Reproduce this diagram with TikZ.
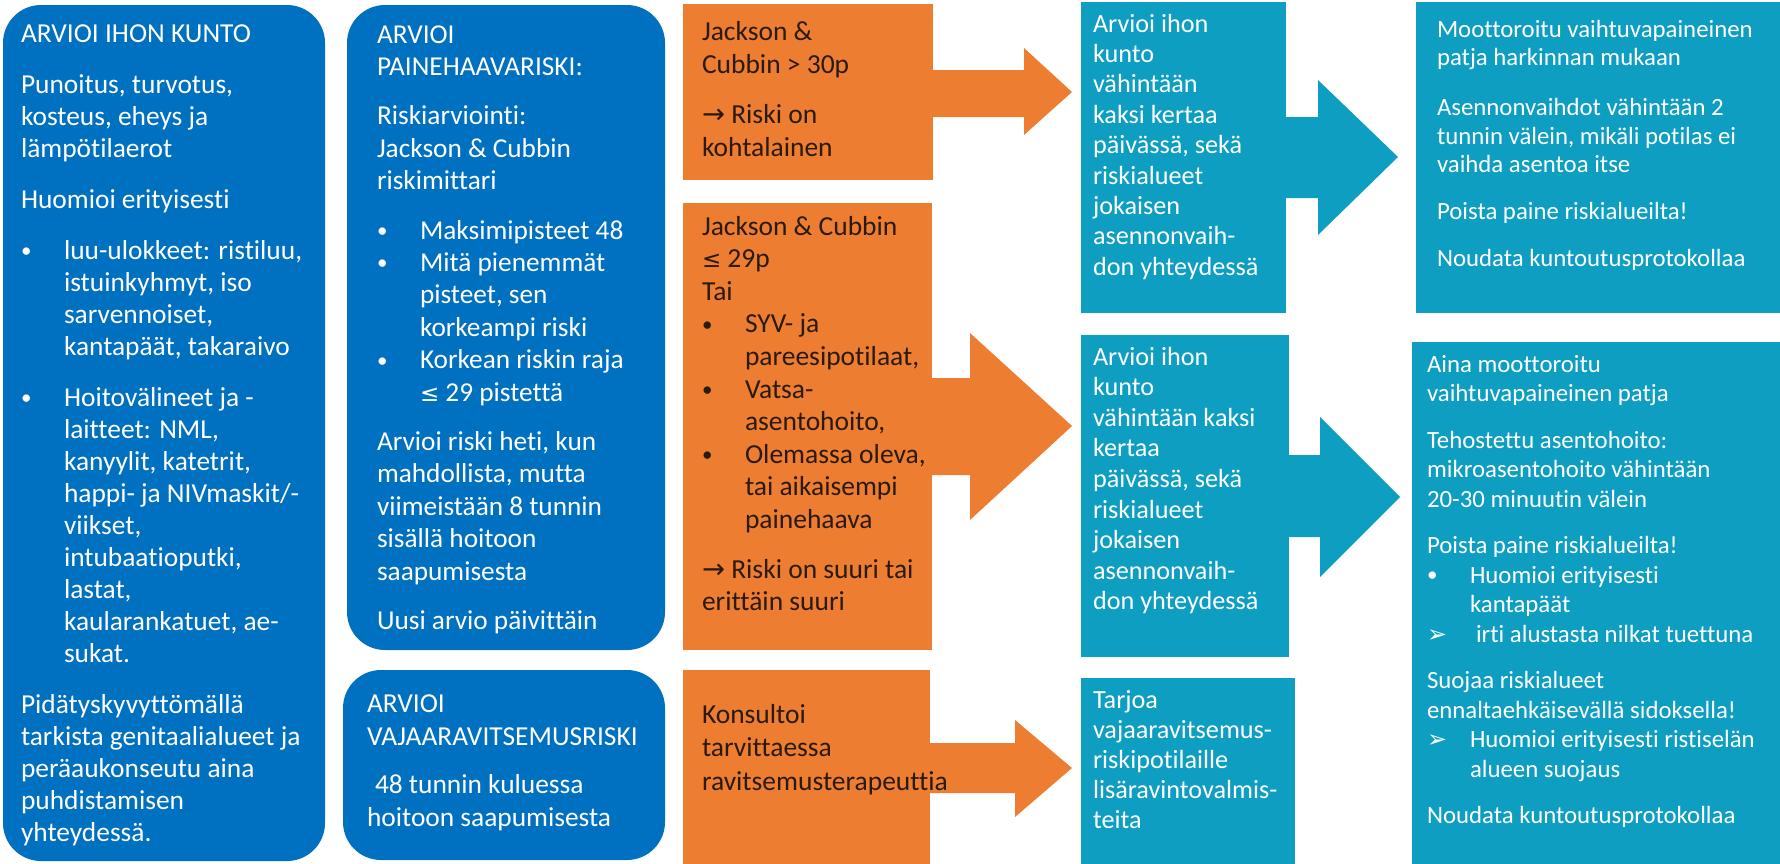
\documentclass[tikz,border=0pt]{standalone}
\usepackage{fontspec}
\setmainfont{Carlito}[Ligatures=NoCommon]
\newfontfamily\dvs{DejaVu Sans}
\usetikzlibrary{calc}
\definecolor{bl}{HTML}{0070C0}
\definecolor{orc}{HTML}{ED7D31}
\definecolor{tl}{HTML}{0E9EC2}
\definecolor{otx}{HTML}{2A1A10}
\newcommand\bu{\makebox[43pt][l]{\raisebox{1.5pt}{\fontsize{21}{21}\selectfont •}}}
\newcommand\ind{\hspace*{43pt}}
\newcommand\tri{\makebox[43pt][l]{{\dvs\fontsize{24}{24}\selectfont ➢}}}
\newcommand\rarr{{\dvs →}}
\newcommand\lsym{{\dvs\fontsize{23}{23}\selectfont ≤}}
\newcommand\fs{\rule{0pt}{24pt}}
\begin{document}
\begin{tikzpicture}[x=1pt,y=-1pt,
  box/.style={inner sep=0pt, outer sep=0pt, anchor=north west, draw=none},
  rbox/.style={box, fill=bl, rounded corners=38pt},
  obox/.style={box, fill=orc},
  tbox/.style={box, fill=tl},
  txt/.style={inner sep=0pt, outer sep=0pt, anchor=north west, align=left},
  wtxt/.style={txt, text=white},
  otxt/.style={txt, text=otx}]
\useasboundingbox (0,0) rectangle (1780,863);
\clip (0,0) rectangle (1780,863);
% boxes
\node[rbox, minimum width=322pt, minimum height=856pt] (b1) at (3,5) {};
\node[rbox, minimum width=318pt, minimum height=645pt] (b2) at (347,5) {};
\node[rbox, minimum width=322pt, minimum height=190pt] (b3) at (343,670) {};
\node[obox, minimum width=250pt, minimum height=176pt] (o1) at (683,4) {};
\node[obox, minimum width=249pt, minimum height=447pt] (o2) at (683,203) {};
\node[obox, minimum width=247pt, minimum height=220pt] (o3) at (683,670) {};
\node[tbox, minimum width=205pt, minimum height=311pt] (t1) at (1081,2) {};
\node[tbox, minimum width=208pt, minimum height=322pt] (t2) at (1081,335) {};
\node[tbox, minimum width=214pt, minimum height=220pt] (t3) at (1081,678) {};
\node[tbox, minimum width=380pt, minimum height=311pt] (r1) at (1416,2) {};
\node[tbox, minimum width=380pt, minimum height=540pt] (r2) at (1412,342) {};
% block arrows
\fill[orc] (o1.east |- 0,70) -- (1024,70) -- (1024,48) -- ($(t1.west |- 0,92)+(-9,0)$)
  -- (1024,135) -- (1024,117) -- (o1.east |- 0,117) -- cycle;
\fill[orc] (o2.east |- 0,378) -- (970,378) -- (970,333) -- ($(t2.west |- 0,426)+(-9,0)$)
  -- (970,520) -- (970,475) -- (o2.east |- 0,475) -- cycle;
\fill[orc] (o3.east |- 0,743) -- (1015,743) -- (1015,720) -- ($(t3.west |- 0,768)+(-9,0)$)
  -- (1015,817) -- (1015,793) -- (o3.east |- 0,793) -- cycle;
\fill[tl] (t1.east |- 0,117) -- (1318,117) -- (1318,80) -- ($(r1.west |- 0,157)+(-18,0)$)
  -- (1318,235) -- (1318,198) -- (t1.east |- 0,198) -- cycle;
\fill[tl] (t2.east |- 0,455) -- (1320,455) -- (1320,417) -- ($(r2.west |- 0,497)+(-12,0)$)
  -- (1320,577) -- (1320,537) -- (t2.east |- 0,537) -- cycle;
% texts (anchor = first baseline - 24pt)
\node[wtxt, font=\fontsize{27.4}{32}\selectfont] (b1t) at (21,18) {\fs ARVIOI IHON KUNTO\\[19pt]
Punoitus, turvotus,\\ kosteus, eheys ja\\ lämpötilaerot\\[19pt]
Huomioi erityisesti\\[19pt]
\bu luu-ulokkeet: ristiluu,\\ \ind istuinkyhmyt, iso\\ \ind sarvennoiset,\\ \ind kantapäät, takaraivo\\[19pt]
\bu Hoitovälineet ja -\\ \ind laitteet:  NML,\\ \ind kanyylit, katetrit,\\ \ind happi- ja NIVmaskit/-\\ \ind viikset,\\ \ind intubaatioputki,\\ \ind lastat,\\ \ind kaularankatuet, ae-\\ \ind sukat.\\[19pt]
Pidätyskyvyttömällä\\ tarkista genitaalialueet  ja\\ peräaukonseutu aina\\ puhdistamisen\\ yhteydessä.};
\node[wtxt, font=\fontsize{27.3}{32.4}\selectfont] (b2t) at (377,19) {\fs ARVIOI\\ PAINEHAAVARISKI:\\[17pt]
Riskiarviointi:\\ Jackson \& Cubbin\\ riskimittari\\[17pt]
\bu Maksimipisteet 48\\ \bu Mitä pienemmät\\ \ind pisteet, sen\\ \ind korkeampi riski\\ \bu Korkean riskin raja\\ \ind \lsym{} 29 pistettä\\[17pt]
Arvioi riski heti, kun\\ mahdollista, mutta\\ viimeistään 8 tunnin\\ sisällä hoitoon\\ saapumisesta\\[17pt]
Uusi arvio päivittäin};
\node[wtxt, font=\fontsize{27.4}{33}\selectfont] (b3t) at (367,688) {\fs ARVIOI\\ VAJAARAVITSEMUSRISKI\\[15pt]
\hspace*{8pt}48 tunnin kuluessa\\ hoitoon saapumisesta};
\node[otxt, font=\fontsize{27.5}{33}\selectfont] (o1t) at (702,16) {\fs Jackson \&\\ Cubbin > 30p\\[17pt]
\rarr{} Riski on\\ kohtalainen};
\node[otxt, font=\fontsize{27.5}{32.6}\selectfont] (o2t) at (702,211) {\fs Jackson \& Cubbin\\ \lsym{} 29p\\ Tai\\
\bu SYV- ja\\ \ind pareesipotilaat,\\ \bu Vatsa-\\ \ind asentohoito,\\ \bu Olemassa oleva,\\ \ind tai aikaisempi\\ \ind painehaava\\[17pt]
\rarr{} Riski on suuri tai\\ erittäin suuri};
\node[otxt, font=\fontsize{27.5}{33.5}\selectfont] (o3t) at (702,699) {\fs Konsultoi\\ tarvittaessa\\ ravitsemusterapeuttia};
\node[wtxt, font=\fontsize{26.2}{30.4}\selectfont] (t1t) at (1093,8) {\fs Arvioi ihon\\ kunto\\ vähintään\\ kaksi kertaa\\ päivässä, sekä\\ riskialueet\\ jokaisen\\ asennonvaih-\\ don yhteydessä};
\node[wtxt, font=\fontsize{26.2}{30.6}\selectfont] (t2t) at (1093,341) {\fs Arvioi ihon\\ kunto\\ vähintään kaksi\\ kertaa\\ päivässä, sekä\\ riskialueet\\ jokaisen\\ asennonvaih-\\ don yhteydessä};
\node[wtxt, font=\fontsize{26.2}{30}\selectfont] (t3t) at (1093,684) {\fs Tarjoa\\ vajaaravitsemus-\\ riskipotilaille\\ lisäravintovalmis-\\ teita};
\node[wtxt, font=\fontsize{24.8}{28.7}\selectfont] (r1t) at (1437,13) {\fs Moottoroitu vaihtuvapaineinen\\ patja harkinnan mukaan\\[21pt]
Asennonvaihdot vähintään 2\\ tunnin välein, mikäli potilas ei\\ vaihda asentoa itse\\[18pt]
Poista paine riskialueilta!\\[18pt]
Noudata kuntoutusprotokollaa};
\node[wtxt, font=\fontsize{24.8}{29.5}\selectfont] (r2t) at (1427,348) {\fs Aina moottoroitu\\ vaihtuvapaineinen patja\\[17pt]
Tehostettu asentohoito:\\ mikroasentohoito vähintään\\ 20-30 minuutin välein\\[17pt]
Poista paine riskialueilta!\\ \bu Huomioi erityisesti\\ \ind kantapäät\\ \tri\hspace*{6pt}irti alustasta nilkat tuettuna\\[17pt]
Suojaa riskialueet\\ ennaltaehkäisevällä sidoksella!\\ \tri Huomioi erityisesti ristiselän\\ \ind alueen suojaus\\[17pt]
Noudata kuntoutusprotokollaa};
\end{tikzpicture}
\end{document}
